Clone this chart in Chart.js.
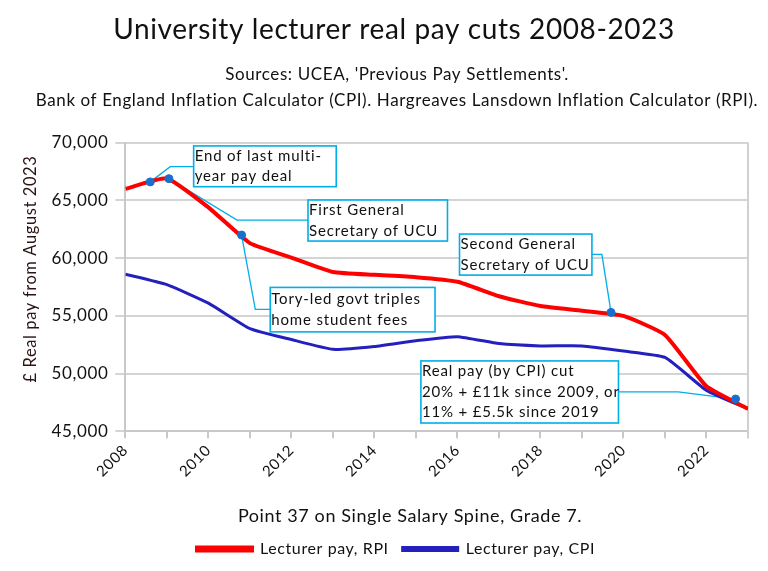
<!DOCTYPE html>
<html>
<head>
<meta charset="utf-8">
<script src="https://cdn.jsdelivr.net/npm/chart.js@4"></script>
<style>
  html, body { margin: 0; padding: 0; background: #fff; }
  #wrap { width: 768px; height: 571px; }
</style>
</head>
<body>
<div id="wrap"><canvas id="payChart" width="768" height="571"></canvas></div>
<script>
// yearly values, £ real terms (August 2023 prices)
const years = [2008, 2009, 2010, 2011, 2012, 2013, 2014, 2015, 2016, 2017, 2018, 2019, 2020, 2021, 2022, 2023];
const payRPI = [66000, 66900, 64400, 61300, 60050, 58800, 58550, 58350, 57950, 56700, 55850, 55450, 55000, 53350, 48900, 46950];
const payCPI = [58600, 57700, 56100, 53900, 52950, 52100, 52350, 52850, 53200, 52600, 52400, 52400, 51950, 51400, 48550, 46950];

// highlighted events on the RPI line
const eventYears = [2008.6, 2009.05, 2010.8, 2019.7, 2022.7];
const eventValues = [66600, 66880, 62000, 55300, 47800];

const yTicks = [45000, 50000, 55000, 60000, 65000, 70000];

const titleText = "University lecturer real pay cuts 2008-2023";
const subtitleText = ["Sources: UCEA, 'Previous Pay Settlements'.",
  "Bank of England Inflation Calculator (CPI). Hargreaves Lansdown Inflation Calculator (RPI)."];
const xTitleText = "Point 37 on Single Salary Spine, Grade 7.";
const yTitleText = "£ Real pay from August 2023";

// callouts: text, box corners and leader path in data units
const callouts = [
  { lines: ["End of last multi-", "year pay deal"], box: [2009.645, 69714, 2013.08, 66185],
    path: [[2009.645, 67919], [2009.08, 67919]], target: 0 },
  { lines: ["First General", "Secretary of UCU"], box: [2012.40, 65032, 2015.76, 61478],
    path: [[2012.40, 63298], [2010.69, 63298]], target: 1 },
  { lines: ["Tory-led govt triples", "home student fees"], box: [2011.49, 57463, 2015.46, 53614],
    path: [[2011.49, 55556], [2011.13, 55556]], target: 2 },
  { lines: ["Second General", "Secretary of UCU"], box: [2016.05, 62084, 2019.24, 58530],
    path: [[2019.24, 60324], [2019.48, 60324]], target: 3 },
  { lines: ["Real pay (by CPI) cut", "20% + £11k since 2009, or", "11% + £5.5k since 2019"], box: [2015.12, 51099, 2019.88, 45724],
    path: [[2019.88, 48412], [2021.32, 48412]], target: 4 }
];

const calloutColor = "#00aee8";

// the original text is set with loose spacing
const spacingPlugin = {
  id: "spacing",
  beforeLayout(chart) { chart.ctx.letterSpacing = "0.6px"; },
  beforeDraw(chart) { chart.ctx.letterSpacing = "0.6px"; },
  // the original figure is centred a little right of the canvas middle
  afterLayout(chart) {
    chart.boxes.forEach(b => {
      let dx = 0;
      if (b === chart.legend) dx = 12;
      else if (b.options && b.options.text === titleText) dx = 10;
      else if (b.options && b.options.text === subtitleText) dx = 13;
      if (dx) { b.left += dx; b.right += dx; }
    });
  },
  afterDraw(chart) {
    const { ctx, scales: { x, y } } = chart;
    ctx.save();
    ctx.letterSpacing = "0.6px";
    ctx.fillStyle = "#111";
    ctx.textAlign = "center";
    ctx.textBaseline = "middle";
    ctx.font = "18px Lato";
    ctx.fillText(xTitleText, 410, x.bottom - 11);
    ctx.translate(y.left + 11, 269);
    ctx.rotate(-Math.PI / 2);
    ctx.fillStyle = "#2a1414";
    ctx.font = "16.5px Lato";
    ctx.fillText(yTitleText, 0, 0);
    ctx.restore();
  }
};

const calloutPlugin = {
  id: "callouts",
  beforeDatasetsDraw(chart) {
    const { ctx, scales: { x, y }, chartArea } = chart;
    ctx.save();
    // right frame line
    ctx.strokeStyle = "#d0d0d0";
    ctx.lineWidth = 2;
    ctx.beginPath();
    ctx.moveTo(chartArea.right, chartArea.top);
    ctx.lineTo(chartArea.right, chartArea.bottom + 7);
    ctx.stroke();

    callouts.forEach(c => {
      const x0 = x.getPixelForValue(c.box[0]);
      const y0 = y.getPixelForValue(c.box[1]);
      const x1 = x.getPixelForValue(c.box[2]);
      const y1 = y.getPixelForValue(c.box[3]);
      ctx.strokeStyle = calloutColor;
      ctx.lineWidth = 1.3;
      ctx.beginPath();
      c.path.forEach((p, i) => {
        const px = x.getPixelForValue(p[0]);
        const py = y.getPixelForValue(p[1]);
        if (i === 0) ctx.moveTo(px, py); else ctx.lineTo(px, py);
      });
      ctx.lineTo(x.getPixelForValue(eventYears[c.target]), y.getPixelForValue(eventValues[c.target]));
      ctx.stroke();

      ctx.fillStyle = "#fff";
      ctx.fillRect(x0, y0, x1 - x0, y1 - y0);
      ctx.lineWidth = 1.6;
      ctx.strokeRect(x0, y0, x1 - x0, y1 - y0);

      ctx.fillStyle = "#111";
      ctx.font = "15px Lato";
      ctx.letterSpacing = "0.85px";
      ctx.textBaseline = "middle";
      ctx.textAlign = "left";
      const lh = 20.5;
      const start = (y0 + y1) / 2 - (c.lines.length - 1) * lh / 2;
      c.lines.forEach((t, i) => ctx.fillText(t, x0 + 1, start + i * lh));
    });
    ctx.restore();
  }
};

const ctx = document.getElementById("payChart").getContext("2d");

new Chart(ctx, {
  type: "line",
  data: {
    datasets: [
      {
        label: "Lecturer pay, RPI",
        data: years.map((yr, i) => ({ x: yr, y: payRPI[i] })),
        borderColor: "#ff0000",
        backgroundColor: "#ff0000",
        borderWidth: 4,
        pointRadius: 0,
        tension: 0.15,
        order: 2
      },
      {
        label: "Lecturer pay, CPI",
        data: years.map((yr, i) => ({ x: yr, y: payCPI[i] })),
        borderColor: "#2420bd",
        backgroundColor: "#2420bd",
        borderWidth: 3,
        pointRadius: 0,
        tension: 0.15,
        order: 3
      },
      {
        label: "events",
        data: eventYears.map((yr, i) => ({ x: yr, y: eventValues[i] })),
        showLine: false,
        pointRadius: 4,
        pointBackgroundColor: "#1a6fcc",
        pointBorderColor: "#1a6fcc",
        order: 1
      }
    ]
  },
  options: {
    responsive: false,
    animation: false,
    layout: { padding: { left: 20, right: 20, bottom: 4 } },
    scales: {
      x: {
        type: "linear",
        min: 2008,
        max: 2023,
        ticks: {
          stepSize: 1,
          autoSkip: false,
          maxRotation: 45,
          minRotation: 45,
          color: "#111",
          font: { family: "Lato", size: 15 },
          callback: v => (v % 2 === 0 && v < 2023 ? String(v) : "")
        },
        grid: { drawOnChartArea: false, drawTicks: true, tickLength: 7, color: "#c8c8c8", lineWidth: 2 },
        border: { color: "#c8c8c8", width: 2 },
        title: {
          // space is reserved here, the text itself is drawn by spacingPlugin
          display: true,
          text: xTitleText,
          color: "rgba(0,0,0,0)",
          font: { family: "Lato", size: 18 },
          padding: { top: 20, bottom: 2 }
        }
      },
      y: {
        min: 45000,
        max: 70000,
        afterBuildTicks: axis => { axis.ticks = yTicks.map(v => ({ value: v })); },
        ticks: {
          color: "#111",
          padding: 7,
          font: { family: "Lato", size: 17 },
          callback: v => v.toLocaleString("en-GB")
        },
        grid: { color: "#d4d4d4", lineWidth: 2, tickLength: 10 },
        border: { color: "#c8c8c8", width: 2 },
        title: {
          display: true,
          text: yTitleText,
          color: "rgba(0,0,0,0)",
          font: { family: "Lato", size: 18 },
          padding: { top: 0, bottom: 3 }
        }
      }
    },
    plugins: {
      title: {
        display: true,
        text: titleText,
        color: "#111",
        font: { family: "Lato", size: 28, weight: "normal" },
        padding: { top: 13, bottom: 15 }
      },
      subtitle: {
        display: true,
        text: subtitleText,
        color: "#111",
        font: { family: "Lato", size: 17, lineHeight: 1.53 },
        padding: { top: 0, bottom: 29 }
      },
      legend: {
        position: "bottom",
        labels: {
          color: "#111",
          font: { family: "Lato", size: 16 },
          boxWidth: 55,
          boxHeight: 3,
          padding: 14,
          filter: item => item.text !== "events"
        }
      },
      tooltip: { enabled: false }
    }
  },
  plugins: [spacingPlugin, calloutPlugin]
});
</script>
</body>
</html>
